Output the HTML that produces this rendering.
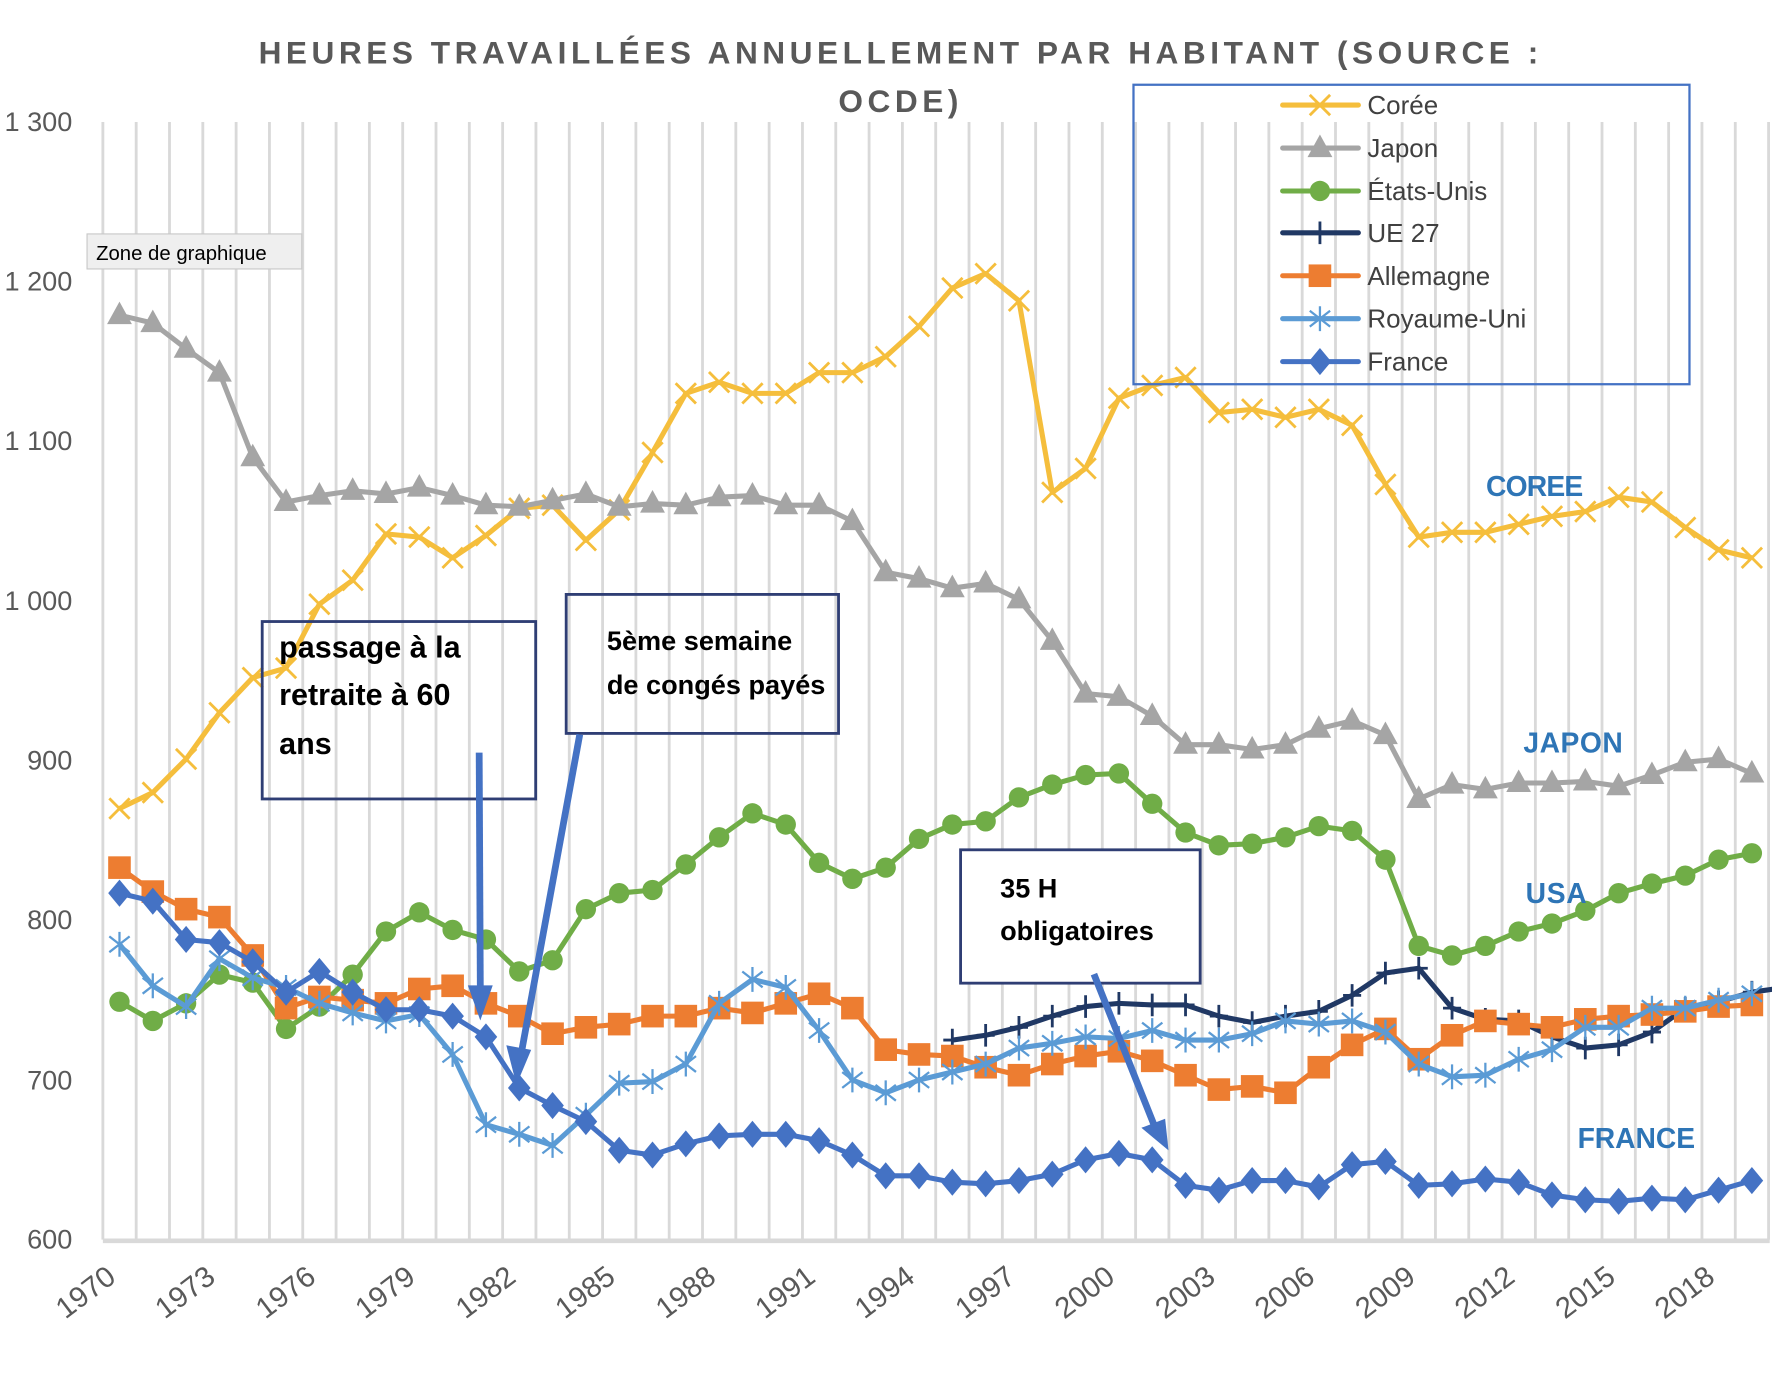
<!DOCTYPE html>
<html><head><meta charset="utf-8"><style>
html,body{margin:0;padding:0;background:#fff;}
svg{display:block;}
text{font-family:"Liberation Sans",sans-serif;}
</style></head><body>
<svg id="s" width="1772" height="1378" viewBox="0 0 1568 1219.4" xmlns="http://www.w3.org/2000/svg">
<rect width="1568" height="1220" fill="#fff"/>
<g id="grid" stroke="#d9d9d9" stroke-width="2.5"></g>
<line x1="91" y1="1098" x2="1566" y2="1098" stroke="#d9d9d9" stroke-width="4"/>
<g font-size="24" fill="#595959" text-anchor="end">
<text x="64" y="116">1 300</text>
<text x="64" y="257">1 200</text>
<text x="64" y="398">1 100</text>
<text x="64" y="540">1 000</text>
<text x="64" y="681">900</text>
<text x="64" y="822">800</text>
<text x="64" y="964">700</text>
<text x="64" y="1105">600</text>
</g>
<g font-size="26" fill="#595959" text-anchor="end">
<text transform="translate(104,1133) rotate(-37)">1970</text>
<text transform="translate(192,1133) rotate(-37)">1973</text>
<text transform="translate(281,1133) rotate(-37)">1976</text>
<text transform="translate(369,1133) rotate(-37)">1979</text>
<text transform="translate(458,1133) rotate(-37)">1982</text>
<text transform="translate(546,1133) rotate(-37)">1985</text>
<text transform="translate(635,1133) rotate(-37)">1988</text>
<text transform="translate(723,1133) rotate(-37)">1991</text>
<text transform="translate(811,1133) rotate(-37)">1994</text>
<text transform="translate(900,1133) rotate(-37)">1997</text>
<text transform="translate(988,1133) rotate(-37)">2000</text>
<text transform="translate(1077,1133) rotate(-37)">2003</text>
<text transform="translate(1165,1133) rotate(-37)">2006</text>
<text transform="translate(1254,1133) rotate(-37)">2009</text>
<text transform="translate(1342,1133) rotate(-37)">2012</text>
<text transform="translate(1431,1133) rotate(-37)">2015</text>
<text transform="translate(1519,1133) rotate(-37)">2018</text>
</g>
<g font-size="28" font-weight="bold" fill="#595959" text-anchor="middle" letter-spacing="4">
<text x="797" y="56">HEURES TRAVAILLÉES ANNUELLEMENT PAR HABITANT (SOURCE :</text>
<text x="797" y="99">OCDE)</text>
</g>
<g id="series"></g>
<rect x="1003" y="75" width="492" height="265" fill="none" stroke="#4472C4" stroke-width="2"/>
<g id="leg"></g>
<g font-size="23" fill="#404040">
<text x="1210" y="101">Corée</text>
<text x="1210" y="139">Japon</text>
<text x="1210" y="177">États-Unis</text>
<text x="1210" y="214">UE 27</text>
<text x="1210" y="252">Allemagne</text>
<text x="1210" y="290">Royaume-Uni</text>
<text x="1210" y="328">France</text>
</g>
<g font-size="25" font-weight="bold" fill="#2E75B6" text-anchor="middle">
<text x="1358" y="439" textLength="86">COREE</text>
<text x="1392" y="666" textLength="88">JAPON</text>
<text x="1377" y="799" textLength="54">USA</text>
<text x="1448" y="1016" textLength="104">FRANCE</text>
</g>
<g fill="#fff" stroke="#2F3E74" stroke-width="2.5">
<rect x="232" y="550" width="242" height="157" fill="none"/>
<rect x="501" y="526" width="241" height="123" fill="none"/>
<rect x="850" y="752" width="212" height="118"/>
</g>
<g font-size="27" font-weight="bold" fill="#000">
<text x="247" y="582">passage à la</text>
<text x="247" y="624">retraite à 60</text>
<text x="247" y="667">ans</text>
</g>
<g font-size="24" font-weight="bold" fill="#000">
<text x="537" y="575">5ème semaine</text>
<text x="537" y="614">de congés payés</text>
<text x="885" y="794">35 H</text>
<text x="885" y="832">obligatoires</text>
</g>
<g stroke="#4472C4" stroke-width="6" fill="#4472C4">
<line x1="424" y1="666" x2="425" y2="875"/>
<polygon points="414,872 436,872 425,903" stroke="none"/>
<line x1="513" y1="650" x2="462" y2="928"/>
<polygon points="448,925 470,929 457,960" stroke="none"/>
<line x1="968" y1="862" x2="1021" y2="995"/>
<polygon points="1010,998 1031,990 1034,1018" stroke="none"/>
</g>
<rect x="77" y="207" width="190" height="31" fill="#efefef" stroke="#c8c8c8" stroke-width="1"/>
<text x="85" y="230" font-size="18" fill="#000">Zone de graphique</text>
<script>
(function(){
var NS="http://www.w3.org/2000/svg";
var g=document.getElementById('grid');
for(var k=0;k<=50;k++){var x=91+29.48*k;var l=document.createElementNS(NS,'line');l.setAttribute('x1',x);l.setAttribute('x2',x);l.setAttribute('y1',108);l.setAttribute('y2',1097);g.appendChild(l);}
function X(i){return 105.7+29.48*i;}
function Y(v){return 1097-(v-600)*1.413;}
var S=[
["#F5BE3C","x",0,[870,880,901,930,952,958,998,1013,1042,1040,1027,1041,1058,1060,1038,1057,1093,1130,1137,1130,1130,1143,1143,1153,1172,1196,1205,1188,1068,1083,1127,1135,1140,1118,1120,1115,1120,1110,1073,1040,1043,1043,1048,1053,1056,1065,1062,1046,1032,1027]],
["#A5A5A5","tri",0,[1179,1174,1158,1143,1090,1062,1066,1069,1067,1071,1066,1060,1059,1063,1067,1059,1061,1060,1065,1066,1060,1060,1050,1018,1014,1008,1011,1001,975,942,940,928,910,910,907,910,920,925,916,876,885,882,886,886,887,884,891,899,901,892]],
["#70AD47","circ",0,[749,737,748,766,761,732,746,766,793,805,794,788,768,775,807,817,819,835,852,867,860,836,826,833,851,860,862,877,885,891,892,873,855,847,848,852,859,856,838,784,778,784,793,798,806,817,823,828,838,842]],
["#203864","plus",25,[725,728,733,740,746,748,747,747,740,736,740,743,753,767,770,745,738,737,727,720,722,730,745,749,755,758]],
["#ED7D31","sq",0,[833,818,807,802,778,745,752,750,748,757,759,748,740,729,733,735,740,740,745,742,748,754,745,719,716,715,708,703,710,715,718,712,703,694,696,692,708,722,732,713,728,737,735,733,738,740,741,743,746,747]],
["#5B9BD5","ast",0,[785,759,746,776,764,758,748,742,737,741,716,672,666,659,678,698,699,710,748,763,758,731,700,692,700,705,710,720,723,727,726,731,725,725,729,737,735,737,730,710,702,703,713,719,733,733,745,745,750,754]],
["#4472C4","dia",0,[817,812,788,786,774,755,768,755,744,744,740,727,695,684,674,656,653,660,665,666,666,662,653,640,640,636,635,637,641,650,654,650,634,631,637,637,633,647,649,634,635,638,636,628,625,624,626,625,631,637]]
];
function marker(p,c,t,x,y){
 var e;
 if(t=="x"){e=document.createElementNS(NS,'path');e.setAttribute('d','M'+(x-9)+' '+(y-9)+'L'+(x+9)+' '+(y+9)+'M'+(x-9)+' '+(y+9)+'L'+(x+9)+' '+(y-9));e.setAttribute('stroke',c);e.setAttribute('stroke-width',2.5);}
 else if(t=="tri"){e=document.createElementNS(NS,'polygon');e.setAttribute('points',x+','+(y-12)+' '+(x-11)+','+(y+8)+' '+(x+11)+','+(y+8));e.setAttribute('fill',c);}
 else if(t=="circ"){e=document.createElementNS(NS,'circle');e.setAttribute('cx',x);e.setAttribute('cy',y);e.setAttribute('r',9);e.setAttribute('fill',c);}
 else if(t=="plus"){e=document.createElementNS(NS,'path');e.setAttribute('d','M'+x+' '+(y-10)+'V'+(y+10)+'M'+(x-8)+' '+y+'H'+(x+8));e.setAttribute('stroke',c);e.setAttribute('stroke-width',2.5);}
 else if(t=="sq"){e=document.createElementNS(NS,'rect');e.setAttribute('x',x-10);e.setAttribute('y',y-10);e.setAttribute('width',20);e.setAttribute('height',20);e.setAttribute('fill',c);}
 else if(t=="ast"){e=document.createElementNS(NS,'path');e.setAttribute('d','M'+x+' '+(y-11)+'V'+(y+11)+'M'+(x-9)+' '+(y-7)+'L'+(x+9)+' '+(y+7)+'M'+(x-9)+' '+(y+7)+'L'+(x+9)+' '+(y-7));e.setAttribute('stroke',c);e.setAttribute('stroke-width',2);}
 else {e=document.createElementNS(NS,'polygon');e.setAttribute('points',x+','+(y-12)+' '+(x+10)+','+y+' '+x+','+(y+12)+' '+(x-10)+','+y);e.setAttribute('fill',c);}
 p.appendChild(e);
}
var sg=document.getElementById('series');
S.forEach(function(s){
 var pts=s[3].map(function(v,i){return [X(i+s[2]),Y(v)];});
 var pl=document.createElementNS(NS,'polyline');
 pl.setAttribute('points',pts.map(function(p){return p.join(',');}).join(' '));
 pl.setAttribute('fill','none');pl.setAttribute('stroke',s[0]);pl.setAttribute('stroke-width',4.5);pl.setAttribute('stroke-linejoin','round');
 sg.appendChild(pl);
 pts.forEach(function(p){marker(sg,s[0],s[1],p[0],p[1]);});
});
var lg=document.getElementById('leg');
var ly=[93,131,169,206,244,282,320];
S.forEach(function(s,i){
 var l=document.createElementNS(NS,'line');l.setAttribute('x1',1135);l.setAttribute('x2',1202);l.setAttribute('y1',ly[i]);l.setAttribute('y2',ly[i]);
 l.setAttribute('stroke',s[0]);l.setAttribute('stroke-width',4.5);l.setAttribute('stroke-linecap','round');lg.appendChild(l);
 marker(lg,s[0],s[1],1168,ly[i]);
});
})();
</script>
</svg>
</body></html>
